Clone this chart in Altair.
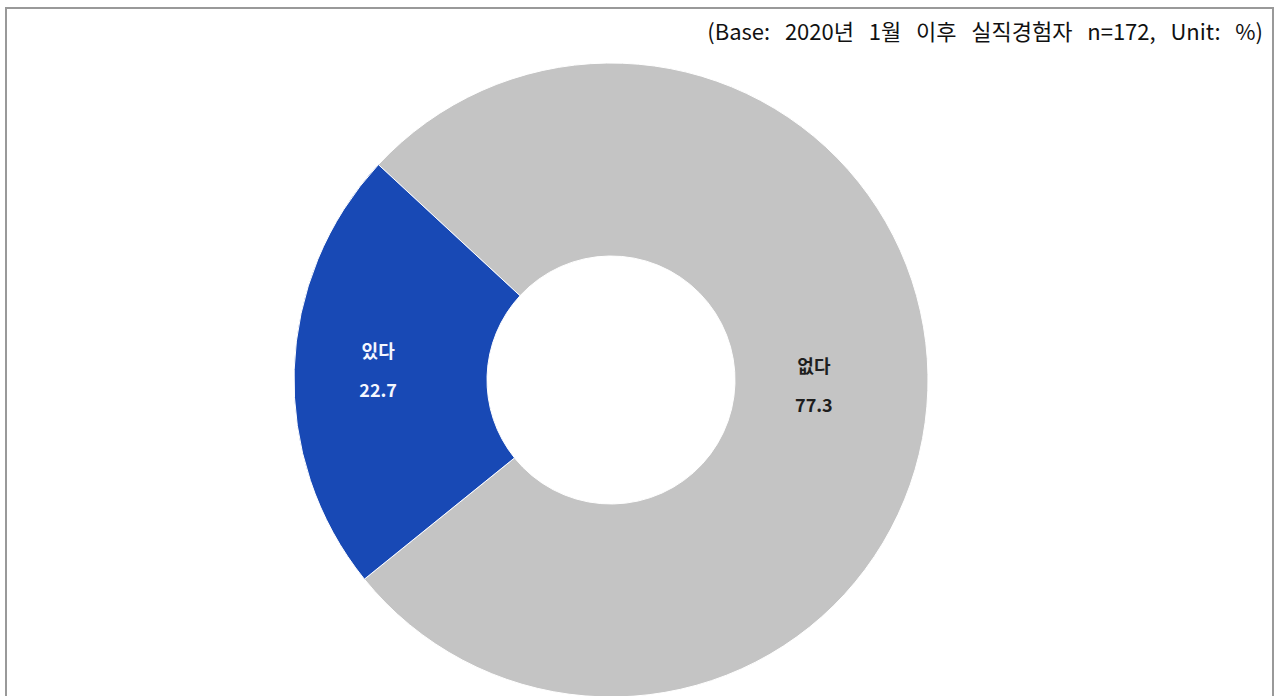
import altair as alt
import pandas as pd
import math

categories = ["없다", "있다"]
values = [77.3, 22.7]
value_labels = ["77.3", "22.7"]
colors = ["#C4C4C4", "#1849B5"]
note_words = ["(Base:", "2020년", "1월", "이후", "실직경험자", "n=172,", "Unit:", "%)"]
note = ("\u00a0" * 3).join(note_words)

df = pd.DataFrame({"cat": categories, "val": values, "lab": value_labels,
                   "order": [0, 1]})

CX, CY = 611, 380
start = math.radians(312.8)
theta_scale = alt.Scale(domain=[0, 100], range=[start, start + 2 * math.pi])

arcs = alt.Chart(df).mark_arc(radius=317, radius2=124, stroke="white", strokeWidth=1).encode(
    theta=alt.Theta("val:Q", stack=True, scale=theta_scale),
    order=alt.Order("order:Q"),
    x=alt.value(CX), y=alt.value(CY),
    color=alt.Color("cat:N", scale=alt.Scale(domain=categories, range=colors), legend=None),
)

FONT = "Noto Sans CJK KR"

stacked = alt.Chart(df).transform_window(
    cum="sum(val)", sort=[alt.SortField("order")]
).transform_calculate(mid="datum.cum - datum.val / 2")


def labels(cat, r, col):
    b = stacked.transform_filter(alt.datum.cat == cat).encode(
        theta=alt.Theta("mid:Q", stack=False, scale=theta_scale),
        x=alt.value(CX), y=alt.value(CY))
    t1 = b.mark_text(radius=r, dy=-19, font=FONT, fontSize=18, fontWeight="bold", color=col).encode(
        text="cat:N")
    t2 = b.mark_text(radius=r, dy=20, font=FONT, fontSize=18, fontWeight="bold", color=col).encode(
        text="lab:N")
    return t1 + t2


lab_yes = labels("있다", 233, "#F4F7FF")
lab_no = labels("없다", 203, "#1E1E1E")

note_df = pd.DataFrame({"t": [note]})
note_mark = alt.Chart(note_df).mark_text(align="right", baseline="middle", font=FONT,
                                         fontSize=22, color="#111111").encode(
    x=alt.value(1263), y=alt.value(33), text="t:N")

frame = alt.Chart(note_df).mark_rect(fill=None, stroke="#999999", strokeWidth=2).encode(
    x=alt.value(6), x2=alt.value(1273), y=alt.value(8), y2=alt.value(720))

chart = alt.layer(frame, arcs, lab_yes, lab_no, note_mark).properties(
    width=1275, height=696,
    autosize=alt.AutoSizeParams(type="none"),
    padding=0,
).configure_view(stroke=None)

chart.save("out.html", embed_options={"renderer": "svg", "actions": False})
